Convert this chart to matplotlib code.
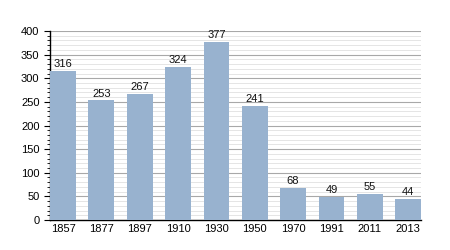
import matplotlib
matplotlib.use("Agg")
import matplotlib.pyplot as plt
from matplotlib.ticker import MultipleLocator

years = ["1857", "1877", "1897", "1910", "1930", "1950", "1970", "1991", "2011", "2013"]
population = [316, 253, 267, 324, 377, 241, 68, 49, 55, 44]

plt.rcParams['font.family'] = ['Liberation Sans', 'DejaVu Sans']
fig = plt.figure(figsize=(4.5, 2.5), dpi=100)
ax = fig.add_axes([0.111, 0.12, 0.825, 0.756])

x = list(range(len(years)))
bars = ax.bar(x, population, width=0.67, color="#98b2cf", zorder=3)
for xi, v in zip(x, population):
    ax.text(xi, v + 4, str(v), ha="center", va="bottom", fontsize=8, color="#111111", zorder=4)

ax.set_xlim(-0.34, len(years) - 1 + 0.34)
ax.set_ylim(0, 400)
ax.set_xticks(x)
ax.set_xticklabels(years)
ax.yaxis.set_major_locator(MultipleLocator(50))
ax.yaxis.set_minor_locator(MultipleLocator(10))
ax.grid(axis="y", which="major", color="#a8a8a8", linewidth=0.8, zorder=0)
ax.grid(axis="y", which="minor", color="#e0e0e0", linewidth=0.6, zorder=0)
for s in ["top", "right"]:
    ax.spines[s].set_visible(False)
ax.spines["left"].set_linewidth(1.0)
ax.spines["bottom"].set_linewidth(1.0)
ax.tick_params(axis="x", length=0, labelsize=8, pad=3)
ax.tick_params(axis="y", which="major", length=4, labelsize=8, direction="out")
ax.tick_params(axis="y", which="minor", length=2, direction="out")

fig.savefig("out.png", dpi=100)
